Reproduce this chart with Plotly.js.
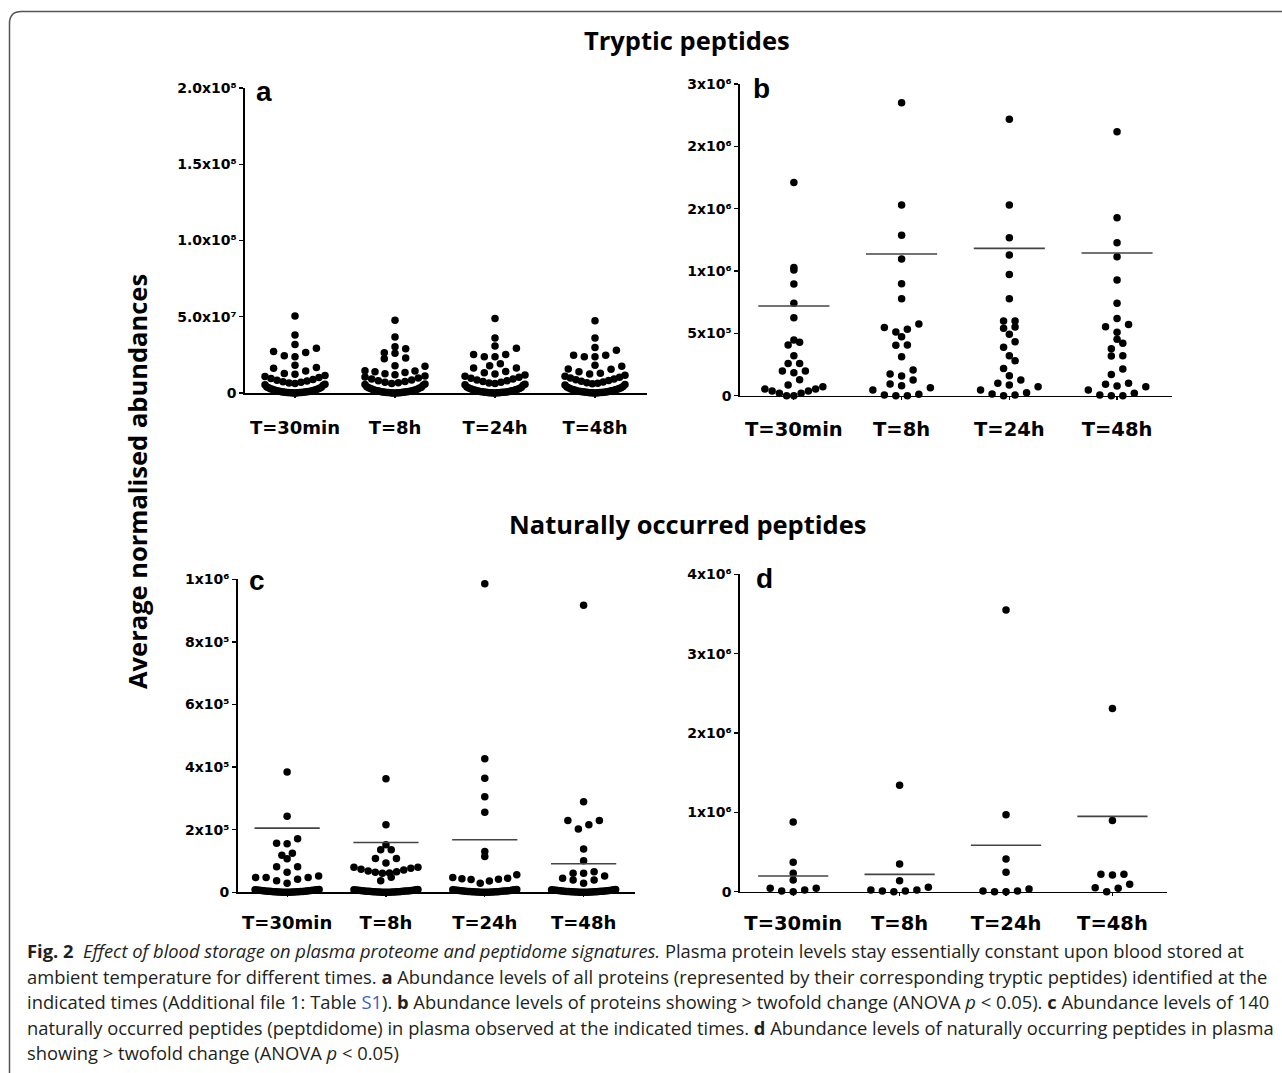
<!DOCTYPE html>
<html>
<head>
<meta charset="utf-8">
<script src="https://cdn.plot.ly/plotly-3.0.1.min.js"></script>
<style>
html,body{margin:0;padding:0;background:#fff;}
#fig{width:1282px;height:1073px;}
</style>
</head>
<body>
<div id="fig"></div>
<script>
// ---------------- DATA ----------------
const categories = ["T=30min", "T=8h", "T=24h", "T=48h"];

// Panel a: tryptic peptides, all proteins (units of 10^6)
const a_30min = [50.5, 38.1, 31.8, 29.4, 27.2, 26.5, 24.4, 23.7, 18.2, 16.7, 16.2, 14.4,
  12.8, 12.3, 11.5, 10.8, 10.1, 9.5, 8.9, 8.4, 7.9, 7.4, 7.0, 6.6, 6.2, 5.8, 5.4, 5.0,
  4.0, 3.7, 3.4, 3.1, 2.8, 2.6, 2.4, 2.2, 2.0, 1.8, 1.6, 1.5, 1.3, 1.2, 1.1, 1.0, 0.9, 0.8,
  0.7, 0.6, 0.5, 0.45, 0.4, 0.35, 0.3, 0.25, 0.2, 0.15, 0.1, 0.06, 0.03];
const a_8h = [47.7, 36.7, 30.3, 29.0, 26.4, 26.0, 23.0, 22.4, 17.8, 17.5, 14.6, 14.4, 13.9,
  13.4, 12.6, 11.9, 11.2, 10.5, 9.8, 9.2, 8.6, 8.1, 7.6, 7.1, 6.7, 6.3, 5.9, 5.5, 5.1,
  4.1, 3.8, 3.5, 3.2, 2.9, 2.6, 2.4, 2.2, 2.0, 1.8, 1.7, 1.5, 1.4, 1.2, 1.1, 1.0, 0.9, 0.8,
  0.7, 0.6, 0.5, 0.45, 0.4, 0.33, 0.27, 0.22, 0.17, 0.12, 0.08, 0.05, 0.02];
const a_24h = [48.9, 36.1, 30.9, 29.4, 25.3, 25.3, 23.8, 23.8, 19.1, 17.9, 16.4, 16.4, 14.1,
  13.2, 12.5, 11.8, 11.0, 10.3, 9.7, 9.1, 8.5, 8.0, 7.5, 7.0, 6.6, 6.2, 5.8, 5.4, 5.0,
  4.0, 3.6, 3.3, 3.0, 2.8, 2.5, 2.3, 2.1, 1.9, 1.7, 1.6, 1.4, 1.3, 1.2, 1.0, 0.9, 0.8, 0.7,
  0.6, 0.55, 0.5, 0.42, 0.36, 0.3, 0.24, 0.19, 0.14, 0.1, 0.06, 0.02];
const a_48h = [47.3, 36.1, 29.8, 28.0, 24.7, 24.7, 23.8, 23.8, 18.2, 17.5, 15.7, 15.5, 14.0,
  13.0, 12.4, 11.7, 11.0, 10.4, 9.8, 9.2, 8.7, 8.2, 7.7, 7.2, 6.8, 6.4, 6.0, 5.6, 5.2,
  4.2, 3.9, 3.5, 3.2, 2.9, 2.7, 2.5, 2.3, 2.1, 1.9, 1.7, 1.5, 1.4, 1.2, 1.1, 1.0, 0.9, 0.8,
  0.7, 0.6, 0.5, 0.44, 0.38, 0.32, 0.26, 0.2, 0.15, 0.1, 0.06, 0.03];

// Panel b: proteins with > twofold change (units of 10^6)
const b_30min = [1.709, 1.029, 1.008, 0.896, 0.741, 0.626, 0.447, 0.428, 0.406, 0.321, 0.259, 0.259,
  0.198, 0.198, 0.184, 0.128, 0.086, 0.072, 0.053, 0.053, 0.037, 0.037, 0.019, 0.019, 0, 0];
const b_8h = [2.350, 1.529, 1.286, 1.096, 0.898, 0.778, 0.575, 0.548, 0.532, 0.511, 0.473, 0.406,
  0.404, 0.313, 0.206, 0.174, 0.158, 0.126, 0.094, 0.080, 0.064, 0.045, 0.011, 0.005, 0, 0];
const b_24h = [2.217, 1.529, 1.267, 1.128, 0.973, 0.778, 0.599, 0.599, 0.551, 0.540, 0.492, 0.433,
  0.388, 0.321, 0.281, 0.219, 0.160, 0.126, 0.099, 0.086, 0.072, 0.045, 0.024, 0.013, 0.005, 0];
const b_48h = [2.118, 1.428, 1.227, 1.115, 0.928, 0.741, 0.620, 0.572, 0.553, 0.508, 0.452, 0.420,
  0.377, 0.321, 0.318, 0.214, 0.171, 0.099, 0.091, 0.078, 0.072, 0.045, 0.019, 0.005, 0, 0];
const b_lines = [0.719, 1.136, 1.182, 1.144];

// Panel c: naturally occurred peptides (units of 10^3)
const c_30min = [384, 243, 171, 157, 155, 125, 118, 107, 82, 82, 64, 52, 47, 47, 47, 42, 37, 29,
  9.0, 8.5, 8.0, 7.5, 7.0, 6.6, 6.2, 5.8, 5.4, 5.0, 4.6, 4.3, 4.0, 3.7, 3.4, 3.1, 2.8, 2.5, 2.2,
  2.0, 1.8, 1.6, 1.4, 1.2, 1.0, 0.8, 0.6, 0.5, 0.4, 0.3, 0.2, 0.1];
const c_8h = [363, 216, 152, 136, 136, 108, 108, 94, 80, 80, 77, 74, 71, 68, 66, 64, 62, 61, 48, 37,
  9.0, 8.4, 7.9, 7.4, 6.9, 6.5, 6.1, 5.7, 5.3, 4.9, 4.5, 4.2, 3.9, 3.6, 3.3, 3.0, 2.7, 2.4, 2.1,
  1.9, 1.7, 1.5, 1.3, 1.1, 0.9, 0.7, 0.5, 0.4, 0.3, 0.2, 0.1];
const c_24h = [986, 427, 364, 305, 256, 130, 114, 56, 47, 45, 43, 42, 41, 36, 29,
  9.0, 8.5, 8.0, 7.5, 7.0, 6.5, 6.0, 5.6, 5.2, 4.8, 4.4, 4.1, 3.8, 3.5, 3.2, 2.9, 2.6, 2.3, 2.0,
  1.8, 1.6, 1.4, 1.2, 1.0, 0.8, 0.6, 0.5, 0.4, 0.3, 0.2, 0.1];
const c_48h = [917, 289, 229, 229, 216, 202, 138, 101, 66, 61, 61, 52, 45, 39, 39, 29,
  9.0, 8.4, 7.8, 7.3, 6.8, 6.3, 5.9, 5.5, 5.1, 4.7, 4.3, 4.0, 3.7, 3.4, 3.1, 2.8, 2.5, 2.2, 2.0,
  1.8, 1.6, 1.4, 1.2, 1.0, 0.8, 0.6, 0.5, 0.4, 0.3, 0.2, 0.1];
const c_lines = [205, 159, 168, 91];

// Panel d: naturally occurring peptides with > twofold change (units of 10^6)
const d_30min = [0.878, 0.371, 0.232, 0.148, 0.042, 0.042, 0.021, 0.008, 0];
const d_8h = [1.342, 0.350, 0.139, 0.055, 0.021, 0.021, 0.008, 0.008, 0];
const d_24h = [3.552, 0.970, 0.413, 0.245, 0.034, 0.008, 0.008, 0, 0];
const d_48h = [2.308, 0.899, 0.219, 0.219, 0.211, 0.093, 0.051, 0.042, 0];
const d_lines = [0.198, 0.219, 0.586, 0.949];

// Tick labels
const a_tickvals = [0, 50, 100, 150, 200];
const a_ticktext = ["0", "5.0x10\u2077", "1.0x10\u2078", "1.5x10\u2078", "2.0x10\u2078"];
const b_tickvals = [0, 0.5, 1, 1.5, 2, 2.5];
const b_ticktext = ["0", "5x10\u2075", "1x10\u2076", "2x10\u2076", "2x10\u2076", "3x10\u2076"];
const c_tickvals = [0, 200, 400, 600, 800, 1000];
const c_ticktext = ["0", "2x10\u2075", "4x10\u2075", "6x10\u2075", "8x10\u2075", "1x10\u2076"];
const d_tickvals = [0, 1, 2, 3, 4];
const d_ticktext = ["0", "1x10\u2076", "2x10\u2076", "3x10\u2076", "4x10\u2076"];

// ---------------- LAYOUT / RENDER ----------------
const W = 1282, H = 1073;
const panels = [
  {n: "", letter: "a", letterPos: [264, 91], xPx: [245, 647], yPx: [393, 88], xRange: [-0.5, 3.52], yMax: 200,
   groups: [a_30min, a_8h, a_24h, a_48h], lines: null, tv: a_tickvals, tt: a_ticktext, sp: 10.7, span: 60, xfs: 18, so: 15},
  {n: "2", letter: "b", letterPos: [761, 88], xPx: [740, 1172], yPx: [395.7, 84], xRange: [-0.5, 3.51], yMax: 2.5,
   groups: [b_30min, b_8h, b_24h, b_48h], lines: b_lines, tv: b_tickvals, tt: b_ticktext, sp: 11.5, span: 58, xfs: 19.5, so: 12},
  {n: "3", letter: "c", letterPos: [257, 580], xPx: [237.7, 635], yPx: [892.3, 579.3], xRange: [-0.5, 3.52], yMax: 1000,
   groups: [c_30min, c_8h, c_24h, c_48h], lines: c_lines, tv: c_tickvals, tt: c_ticktext, sp: 10.5, span: 64, xfs: 18, so: 10},
  {n: "4", letter: "d", letterPos: [764, 578], xPx: [740, 1166.7], yPx: [891.7, 574.4], xRange: [-0.5, 3.51], yMax: 4,
   groups: [d_30min, d_8h, d_24h, d_48h], lines: d_lines, tv: d_tickvals, tt: d_ticktext, sp: 11.5, span: 58, xfs: 19.5, so: 10}
];

function swarmX(vals, idx, pxPerX, pxPerY, sp, span) {
  const BIN = 9;
  const bins = new Map();
  vals.forEach((v, i) => {
    const b = Math.floor(v * pxPerY / BIN);
    if (!bins.has(b)) bins.set(b, []);
    bins.get(b).push(i);
  });
  const xs = new Array(vals.length);
  bins.forEach(ids => {
    ids.sort((p, q) => vals[p] - vals[q]);
    const n = ids.length;
    const s = n > 1 ? Math.min(sp, span / (n - 1)) : 0;
    const slots = [];
    for (let k = 0; k < n; k++) slots.push((k - (n - 1) / 2) * s);
    slots.sort((u, t) => Math.abs(u) - Math.abs(t) || u - t);
    ids.forEach((id, j) => { xs[id] = idx + slots[j] / pxPerX; });
  });
  return xs;
}

const traces = [];
const layout = {
  width: W, height: H, margin: {l: 0, r: 0, t: 0, b: 0},
  paper_bgcolor: "#fff", plot_bgcolor: "rgba(0,0,0,0)", showlegend: false,
  font: {family: "Open Sans", size: 14, color: "#000"},
  annotations: [], shapes: []
};

panels.forEach(p => {
  const pxPerX = (p.xPx[1] - p.xPx[0]) / (p.xRange[1] - p.xRange[0]);
  const pxPerY = (p.yPx[0] - p.yPx[1]) / p.yMax;
  const xa = "x" + p.n, ya = "y" + p.n;
  const xs = [], ys = [];
  p.groups.forEach((g, i) => {
    const gx = swarmX(g, i, pxPerX, pxPerY, p.sp, p.span);
    g.forEach((v, k) => { xs.push(gx[k]); ys.push(v); });
  });
  traces.push({type: "scatter", mode: "markers", x: xs, y: ys, xaxis: xa, yaxis: ya,
    cliponaxis: false, hoverinfo: "skip",
    marker: {color: "#000", size: 7.5, line: {width: 0}}});
  if (p.lines) {
    const lx = [], ly = [];
    p.lines.forEach((m, i) => { lx.push(i - 0.33, i + 0.33, null); ly.push(m, m, null); });
    traces.push({type: "scatter", mode: "lines", x: lx, y: ly, xaxis: xa, yaxis: ya,
      cliponaxis: false, hoverinfo: "skip", line: {color: "#444", width: 1.6}});
  }
  const xk = "xaxis" + p.n, yk = "yaxis" + p.n;
  layout[xk] = {
    domain: [p.xPx[0] / W, p.xPx[1] / W], range: p.xRange, anchor: ya,
    showgrid: false, zeroline: false, showline: true, linecolor: "#000", linewidth: 1.6,
    ticks: "outside", ticklen: 3, tickwidth: 1.2, tickcolor: "#000",
    tickmode: "array", tickvals: [0, 1, 2, 3], ticktext: categories,
    tickfont: {family: "DejaVu Sans", size: p.xfs, color: "#000", weight: "bold"},
    ticklabelstandoff: p.so, fixedrange: true
  };
  layout[yk] = {
    domain: [1 - p.yPx[0] / H, 1 - p.yPx[1] / H], range: [0, p.yMax], anchor: xa,
    showgrid: false, zeroline: false, showline: true, linecolor: "#000", linewidth: 1.6,
    ticks: "outside", ticklen: 4, tickwidth: 1.2, tickcolor: "#000",
    tickmode: "array", tickvals: p.tv, ticktext: p.tt,
    tickfont: {family: "DejaVu Sans", size: 14, color: "#000", weight: "bold"},
    fixedrange: true
  };
  layout.annotations.push({xref: "paper", yref: "paper", x: p.letterPos[0] / W, y: 1 - p.letterPos[1] / H,
    xanchor: "center", yanchor: "middle", showarrow: false, text: "<b>" + p.letter + "</b>",
    font: {family: "Liberation Sans", size: 28, color: "#000"}});
});

function ann(text, px, py, font, extra) {
  return Object.assign({xref: "paper", yref: "paper", x: px / W, y: 1 - py / H,
    xanchor: "center", yanchor: "middle", showarrow: false, text: text, font: font}, extra || {});
}
const titleFont = {family: "Open Sans", size: 25.5, color: "#000"};
layout.annotations.push(ann("<b>Tryptic peptides</b>", 687, 40, titleFont));
layout.annotations.push(ann("<b>Naturally occurred peptides</b>", 687, 524, titleFont));
layout.annotations.push(ann("<b>Average normalised abundances</b>", 137, 482, titleFont, {textangle: -90}));

const capFont = {family: "Open Sans", size: 18.35, color: "#231f20"};
const captionLines = [
  "<b>Fig. 2</b>&nbsp;&nbsp;<i>Effect of blood storage on plasma proteome and peptidome signatures.</i> Plasma protein levels stay essentially constant upon blood stored at",
  "ambient temperature for different times. <b>a</b> Abundance levels of all proteins (represented by their corresponding tryptic peptides) identified at the",
  "indicated times (Additional file 1: Table <span style=\"color:#3b5fc0\">S1</span>). <b>b</b> Abundance levels of proteins showing &gt; twofold change (ANOVA <i>p</i> &lt; 0.05). <b>c</b> Abundance levels of 140",
  "naturally occurred peptides (peptdidome) in plasma observed at the indicated times. <b>d</b> Abundance levels of naturally occurring peptides in plasma",
  "showing &gt; twofold change (ANOVA <i>p</i> &lt; 0.05)"
];
const capY = [950, 976, 1001, 1027, 1052];
captionLines.forEach((t, i) => {
  layout.annotations.push(ann(t, 25, capY[i], capFont, {xanchor: "left"}));
});

// rounded frame (top-left corner)
const fx = 9.5 / W, fy = 1 - 11.5 / H, rx = 12 / W, ry = 12 / H;
layout.shapes.push({type: "path", xref: "paper", yref: "paper",
  path: `M ${fx},-0.01 L ${fx},${fy - ry} Q ${fx},${fy} ${fx + rx},${fy} L 1.01,${fy}`,
  line: {color: "#555", width: 1.5}});

Plotly.newPlot("fig", traces, layout, {staticPlot: true, displayModeBar: false});
</script>
</body>
</html>
